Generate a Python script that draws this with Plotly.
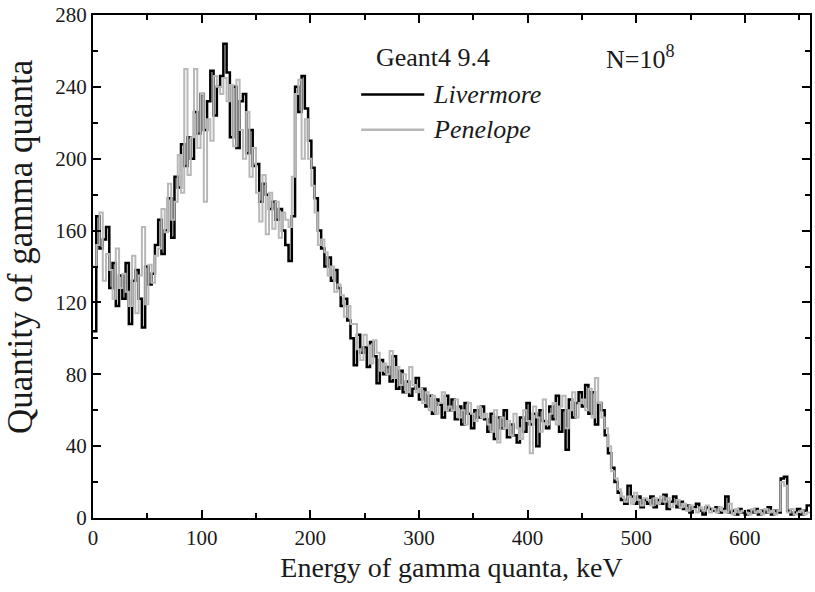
import numpy as np
import plotly.graph_objects as go

BIN_WIDTH = 3  # keV

livermore = [
    104, 168, 150, 155, 162, 128, 142, 118, 135, 122,
    142, 108, 132, 138, 122, 106, 140, 130, 136, 152,
    166, 147, 160, 178, 156, 190, 184, 208, 196, 212,
    200, 226, 214, 236, 216, 232, 249, 224, 240, 246,
    264, 248, 212, 240, 206, 232, 236, 203, 216, 196,
    197, 176, 186, 180, 172, 176, 166, 172, 160, 152,
    143, 168, 240, 226, 246, 228, 210, 195, 178, 160,
    150, 140, 145, 132, 138, 128, 118, 122, 110, 100,
    85, 102, 92, 95, 84, 98, 90, 75, 88, 80,
    84, 76, 90, 72, 82, 70, 76, 68, 72, 78,
    66, 72, 62, 68, 58, 66, 63, 56, 68, 60,
    66, 55, 62, 52, 64, 58, 50, 60, 56, 62,
    55, 48, 58, 44, 56, 50, 60, 45, 52, 46,
    42, 56, 48, 64, 52, 58, 40, 60, 54, 50,
    62, 55, 68, 48, 60, 38, 66, 56, 64, 70,
    62, 74, 58, 70, 52, 64, 60, 46, 36, 28,
    20, 14, 10, 8, 18, 12, 8, 12, 6, 10,
    8, 12, 6, 10, 8, 13, 5, 9, 12, 6,
    9, 5, 7, 3, 6, 8, 4, 2, 6, 5,
    4, 6, 3, 5, 12, 3, 4, 2, 5, 3,
    2, 4, 3, 5, 2, 4, 3, 6, 2, 4,
    3, 22, 23, 4, 2, 3, 5, 2, 4, 7,
]

penelope = [
    140, 152, 170, 132, 147, 138, 122, 150, 128, 136,
    126, 118, 146, 114, 135, 162, 119, 141, 131, 146,
    150, 172, 159, 186, 166, 176, 202, 181, 250, 191,
    212, 250, 206, 236, 176, 222, 210, 246, 240, 236,
    245, 232, 241, 207, 244, 216, 200, 226, 190, 206,
    181, 165, 191, 158, 181, 161, 176, 156, 170, 166,
    162, 190, 236, 244, 200, 222, 200, 185, 170, 152,
    155, 148, 135, 140, 126, 130, 124, 112, 118, 108,
    108, 94, 88, 102, 96, 86, 99, 92, 82, 86,
    80, 93, 78, 84, 74, 80, 70, 84, 74, 70,
    72, 64, 70, 60, 68, 58, 64, 70, 60, 62,
    60, 66, 56, 60, 52, 64, 58, 54, 62, 56,
    58, 52, 48, 60, 42, 56, 50, 54, 46, 58,
    50, 44, 60, 54, 36, 62, 56, 48, 66, 52,
    58, 64, 52, 62, 68, 50, 60, 70, 56, 64,
    66, 60, 72, 56, 78, 64, 56, 50, 40, 26,
    22, 16, 12, 9, 12, 8, 14, 10, 7, 11,
    10, 7, 11, 8, 12, 9, 11, 6, 8, 10,
    6, 8, 4, 7, 5, 3, 6, 4, 7, 3,
    5, 3, 6, 4, 3, 8, 2, 5, 3, 4,
    3, 2, 5, 3, 4, 2, 5, 3, 4, 2,
    4, 20, 18, 3, 5, 2, 3, 4, 2, 3,
]

series_names = ["Livermore", "Penelope"]
x_ticks = [0, 100, 200, 300, 400, 500, 600]
y_ticks = [0, 40, 80, 120, 160, 200, 240, 280]
x_title = "Energy of gamma quanta, keV"
y_title = "Quantity of gamma quanta"
label_code = "Geant4 9.4"
label_events = "N=10<sup>8</sup>"

FONT = "Liberation Serif, Times New Roman, serif"
COLORS = ["#000000", "#b8b8b8"]
WIDTHS = [2.5, 2]
TEXT_COLOR = "#1a1a1a"


def step_xy(values):
    edges = np.arange(len(values) + 1) * BIN_WIDTH
    y = list(values) + [values[-1]]
    return edges, y


fig = go.Figure()
for vals, name, col, w in zip([livermore, penelope], series_names, COLORS, WIDTHS):
    xs, ys = step_xy(vals)
    fig.add_trace(go.Scatter(
        x=xs, y=ys, mode="lines", name=name,
        line=dict(color=col, width=w, shape="hv"),
        showlegend=False,
    ))

axis_common = dict(
    showline=True, linecolor="black", linewidth=2, mirror="ticks",
    ticks="inside", ticklen=8, tickwidth=2, tickcolor="black",
    showgrid=False, zeroline=False,
    tickfont=dict(family=FONT, size=21, color=TEXT_COLOR),
)

fig.update_xaxes(
    range=[0, 660], tickvals=x_ticks,
    minor=dict(ticks="inside", ticklen=5, tickwidth=2, tickcolor="black", dtick=50),
    title=dict(text=x_title, font=dict(family=FONT, size=28, color=TEXT_COLOR), standoff=8),
    **axis_common,
)
fig.update_yaxes(
    range=[0, 280], tickvals=y_ticks,
    minor=dict(ticks="inside", ticklen=5, tickwidth=2, tickcolor="black", dtick=20),
    **axis_common,
)

# Y axis title (placed as rotated text to match reference position)
fig.add_annotation(xref="paper", yref="paper", x=-0.101, y=0.54, text=y_title,
                   textangle=-90, showarrow=False, xanchor="center", yanchor="middle",
                   font=dict(family=FONT, size=35, color=TEXT_COLOR))

# Legend-like labels
ann_font = dict(family=FONT, size=26, color=TEXT_COLOR)
fig.add_annotation(xref="paper", yref="paper", x=0.474, y=0.915, text=label_code,
                   showarrow=False, font=ann_font, xanchor="center", yanchor="middle")
fig.add_annotation(xref="paper", yref="paper", x=0.764, y=0.915, text=label_events,
                   showarrow=False, font=ann_font, xanchor="center", yanchor="middle")
legend_rows = [0.842, 0.772]
for name, col, yy in zip(series_names, COLORS, legend_rows):
    fig.add_shape(type="line", xref="paper", yref="paper", x0=0.374, x1=0.462,
                  y0=yy, y1=yy, line=dict(color=col, width=2.5))
    fig.add_annotation(xref="paper", yref="paper", x=0.472, y=yy, text=f"<i>{name}</i>",
                       showarrow=False, font=ann_font, xanchor="left", yanchor="middle")

fig.update_layout(
    width=815, height=592,
    margin=dict(l=93, r=3, t=13, b=74),
    paper_bgcolor="white", plot_bgcolor="white",
    font=dict(family=FONT),
)

fig.write_html("out.html")
